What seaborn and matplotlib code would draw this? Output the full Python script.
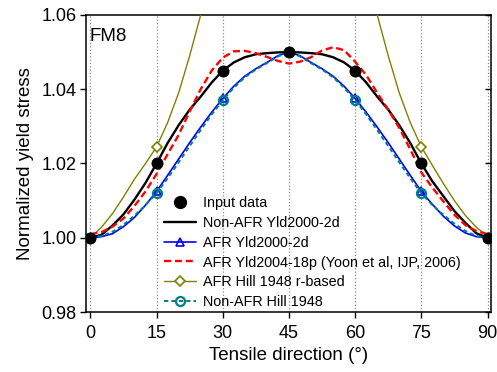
import numpy as np
import pandas as pd
import matplotlib
matplotlib.use("Agg")
import matplotlib.pyplot as plt
import seaborn as sns
from matplotlib.lines import Line2D

sns.set_theme(style="ticks")
plt.rcParams['font.family'] = ['Liberation Sans', 'DejaVu Sans']
plt.rcParams['text.color'] = 'black'
plt.rcParams['axes.labelcolor'] = 'black'
plt.rcParams['xtick.color'] = 'black'
plt.rcParams['ytick.color'] = 'black'

# ---------------- data ----------------
input_angles = [0, 15, 30, 45, 60, 75, 90]
input_values = [1.000, 1.020, 1.045, 1.050, 1.045, 1.020, 1.000]

angles = [0, 2.5, 5, 7.5, 10, 12.5, 15, 17.5, 20, 22.5, 25, 27.5, 30, 32.5, 35, 37.5, 40, 42.5, 45,
          47.5, 50, 52.5, 55, 57.5, 60, 62.5, 65, 67.5, 70, 72.5, 75, 77.5, 80, 82.5, 85, 87.5, 90]

nonafr_yld2000 = [1.0000, 1.0008, 1.0033, 1.0063, 1.0103, 1.0148, 1.0200, 1.0255, 1.0303, 1.0345,
                  1.0380, 1.0418, 1.0450, 1.0472, 1.0486, 1.0494, 1.0497, 1.0499, 1.0500,
                  1.0499, 1.0497, 1.0494, 1.0486, 1.0472, 1.0450, 1.0418, 1.0380, 1.0345,
                  1.0303, 1.0255, 1.0200, 1.0152, 1.0112, 1.0072, 1.0040, 1.0012, 1.0000]

afr_yld2000 = [1.0000, 1.0003, 1.0011, 1.0030, 1.0055, 1.0088, 1.0125, 1.0168, 1.0212, 1.0256,
               1.0298, 1.0338, 1.0375, 1.0408, 1.0435, 1.0455, 1.0472, 1.0490, 1.0500,
               1.0490, 1.0472, 1.0455, 1.0435, 1.0408, 1.0375, 1.0338, 1.0298, 1.0256,
               1.0212, 1.0168, 1.0125, 1.0090, 1.0058, 1.0032, 1.0013, 1.0003, 1.0000]

afr_yld2004 = [1.0010, 1.0015, 1.0030, 1.0052, 1.0086, 1.0125, 1.0172, 1.0225, 1.0277, 1.0340,
               1.0400, 1.0450, 1.0485, 1.0502, 1.0503, 1.0497, 1.0487, 1.0476, 1.0469,
               1.0474, 1.0486, 1.0504, 1.0513, 1.0505, 1.0474, 1.0438, 1.0390, 1.0345,
               1.0296, 1.0238, 1.0176, 1.0135, 1.0098, 1.0062, 1.0034, 1.0018, 1.0010]

nonafr_hill = [1.0000, 1.0005, 1.0016, 1.0035, 1.0060, 1.0088, 1.0120, 1.0160, 1.0203, 1.0247,
               1.0290, 1.0332, 1.0370, 1.0404, 1.0432, 1.0453, 1.0470, 1.0488, 1.0500,
               1.0488, 1.0470, 1.0453, 1.0432, 1.0404, 1.0370, 1.0332, 1.0290, 1.0247,
               1.0203, 1.0160, 1.0120, 1.0088, 1.0062, 1.0038, 1.0018, 1.0005, 1.0000]

hill_r_angles_left = [0, 2.5, 5, 7.5, 10, 12.5, 15, 17.5, 20, 22.5, 25, 27.5]
hill_r_left = [1.0000, 1.0028, 1.0065, 1.0110, 1.0158, 1.0200, 1.0245, 1.0310, 1.0390, 1.0490, 1.0600, 1.0720]
hill_r_angles_right = [62.5, 65, 67.5, 70, 72.5, 75, 77.5, 80, 82.5, 85, 87.5, 90]
hill_r_right = [1.0720, 1.0600, 1.0490, 1.0390, 1.0310, 1.0245, 1.0195, 1.0146, 1.0100, 1.0060, 1.0028, 1.0005]

xticks = [0, 15, 30, 45, 60, 75, 90]
yticks = [0.98, 1.00, 1.02, 1.04, 1.06]

labels = ["Input data", "Non-AFR Yld2000-2d", "AFR Yld2000-2d",
          "AFR Yld2004-18p (Yoon et al, IJP, 2006)", "AFR Hill 1948 r-based", "Non-AFR Hill 1948"]

# ---------------- figure ----------------
fig = plt.figure(figsize=(4.97, 3.72), dpi=100)
ax = fig.add_axes([0.173, 0.161, 0.815, 0.799])

olive = "#808000"
teal = "#008080"

sns.lineplot(x=hill_r_angles_left, y=hill_r_left, ax=ax, color=olive, lw=1.0,
             marker="D", markersize=5.5, markerfacecolor="white", markeredgecolor=olive,
             markeredgewidth=1.2, markevery=[6], zorder=3)
sns.lineplot(x=hill_r_angles_right, y=hill_r_right, ax=ax, color=olive, lw=1.0,
             marker="D", markersize=5.5, markerfacecolor="white", markeredgecolor=olive,
             markeredgewidth=1.2, markevery=[5], zorder=3)
sns.lineplot(x=angles, y=nonafr_yld2000, ax=ax, color="black", lw=1.7, zorder=4)
sns.lineplot(x=angles, y=afr_yld2000, ax=ax, color="blue", lw=1.2,
             marker="^", markersize=5.5, markerfacecolor="none", markeredgecolor="blue",
             markeredgewidth=1.2, markevery=6, zorder=4)
sns.lineplot(x=angles, y=afr_yld2004, ax=ax, color="red", lw=1.7,
             linestyle=(0, (3, 1.6)), zorder=5)
sns.lineplot(x=angles, y=nonafr_hill, ax=ax, color=teal, lw=1.4,
             linestyle=(0, (2.2, 1.6)), marker="o", markersize=6.5, markerfacecolor="none",
             markeredgecolor=teal, markeredgewidth=1.6, markevery=6, zorder=6)
sns.scatterplot(x=input_angles, y=input_values, ax=ax, color="black", s=75,
                edgecolor="black", linewidth=0, zorder=7)

ax.set_xlim(-1.0, 90.8)
ax.set_ylim(0.98, 1.06)
ax.set_xticks(xticks)
ax.set_yticks(yticks)
ax.set_yticklabels([f"{v:.2f}" for v in yticks])
ax.xaxis.grid(True, linestyle=":", color="#888888", lw=0.9)
ax.yaxis.grid(False)

for s in ax.spines.values():
    s.set_visible(True)
    s.set_color("black")
    s.set_linewidth(1.1)

ax.tick_params(axis="both", which="major", labelsize=13, direction="out", length=4,
               width=1, color="black", labelcolor="black")
ax.tick_params(axis="x", pad=5)
ax.tick_params(axis="y", pad=3)
ax.yaxis.set_tick_params(which="major", right=True)
for t in ax.yaxis.get_major_ticks():
    t.tick2line.set_marker(matplotlib.lines.TICKLEFT)

ax.set_xlabel("Tensile direction (°)", fontsize=13.5, labelpad=4, color="black")
ax.set_ylabel("Normalized yield stress", fontsize=13.5, labelpad=5, color="black")
ax.text(0.008, 0.955, "FM8", transform=ax.transAxes, fontsize=13.5, va="top", ha="left",
        color="black")

handles = [
    Line2D([], [], linestyle="none", marker="o", markersize=8.5, color="black"),
    Line2D([], [], color="black", lw=1.7),
    Line2D([], [], color="blue", lw=1.2, marker="^", markersize=5.5, markerfacecolor="none",
           markeredgecolor="blue", markeredgewidth=1.2),
    Line2D([], [], color="red", lw=1.7, linestyle=(0, (3, 1.6))),
    Line2D([], [], color=olive, lw=1.0, marker="D", markersize=5.5, markerfacecolor="white",
           markeredgecolor=olive, markeredgewidth=1.2),
    Line2D([], [], color=teal, lw=1.4, linestyle=(0, (2.2, 1.6)), marker="o", markersize=6.5,
           markerfacecolor="none", markeredgecolor=teal, markeredgewidth=1.6),
]
leg = ax.legend(handles, labels, loc="upper left", bbox_to_anchor=(0.193, 0.39),
                frameon=False, fontsize=10.4, handlelength=2.2, handletextpad=0.5,
                labelspacing=0.4, borderpad=0, borderaxespad=0, labelcolor="black")

fig.savefig("out.png", dpi=100)
